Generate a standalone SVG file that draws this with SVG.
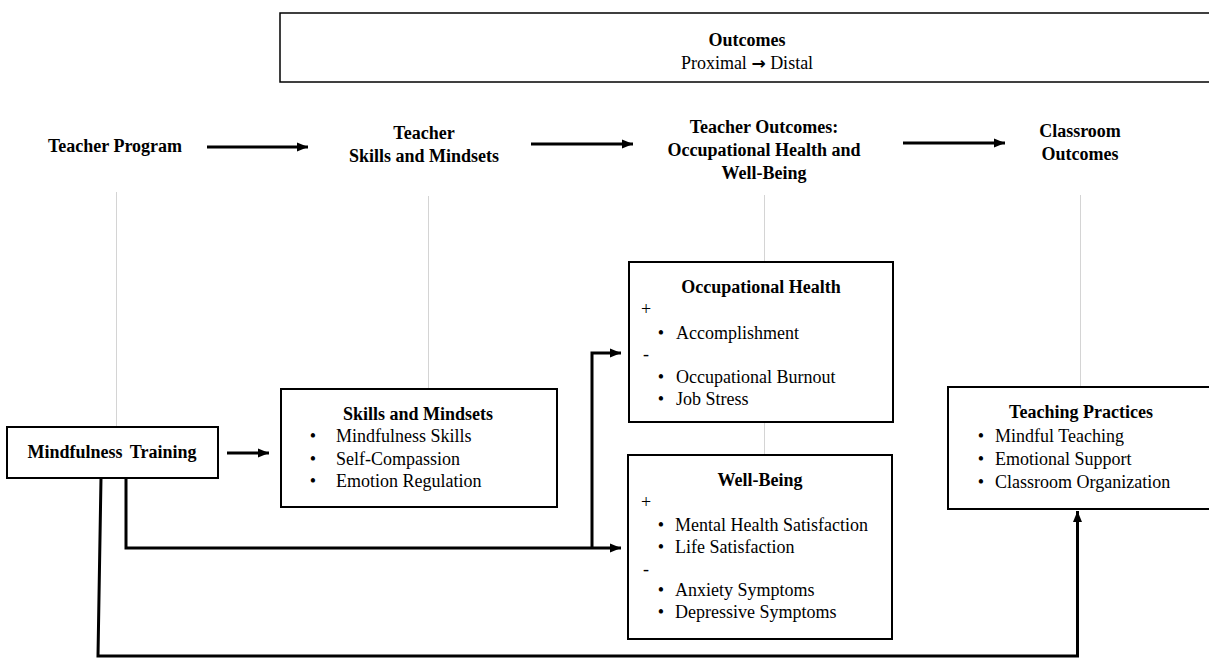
<svg xmlns="http://www.w3.org/2000/svg" width="1209" height="666" viewBox="0 0 1209 666">
<defs>
<style>
text{font-family:"Liberation Serif","Times New Roman",serif;font-size:18px;fill:#000}
.b{font-weight:bold}
.c{text-anchor:middle}
.box{fill:#fff;stroke:#000;stroke-width:2}
.grey{stroke:#d4d4d4;stroke-width:1;fill:none}
.con{stroke:#000;stroke-width:3;fill:none}
.arr{font-family:"DejaVu Sans",sans-serif;font-size:17px;font-weight:bold}
</style>
<marker id="ah" markerUnits="userSpaceOnUse" markerWidth="12" markerHeight="12" viewBox="0 0 12 12" refX="11" refY="6" orient="auto">
<path d="M0,1.5 L11,6 L0,10.5 Z" fill="#000"/>
</marker>
</defs>
<rect width="1209" height="666" fill="#fff"/>

<g id="outcomes">
<rect class="box" x="280" y="13" width="940" height="69" style="stroke-width:1.5"/>
<text class="b c" x="747" y="46">Outcomes</text>
<text class="c" x="747" y="69">Proximal <tspan class="arr">→</tspan> Distal</text>
</g>

<g id="header-program"><text class="b c" x="115" y="152">Teacher Program</text></g>
<g id="header-skills">
<text class="b c" x="424" y="139">Teacher</text>
<text class="b c" x="424" y="162">Skills and Mindsets</text>
</g>
<g id="header-teacher-outcomes">
<text class="b c" x="764" y="133">Teacher Outcomes:</text>
<text class="b c" x="764" y="156">Occupational Health and</text>
<text class="b c" x="764" y="179">Well-Being</text>
</g>
<g id="header-classroom">
<text class="b c" x="1080" y="137">Classroom</text>
<text class="b c" x="1080" y="160">Outcomes</text>
</g>

<g id="guides">
<line class="grey" x1="116.5" y1="192" x2="116.5" y2="427"/>
<line class="grey" x1="428.5" y1="196" x2="428.5" y2="389"/>
<line class="grey" x1="764.5" y1="195" x2="764.5" y2="262"/>
<line class="grey" x1="764.5" y1="422" x2="764.5" y2="455"/>
<line class="grey" x1="1080.5" y1="195" x2="1080.5" y2="387"/>
</g>

<g id="connectors">
<line class="con" x1="207" y1="147" x2="308" y2="147" marker-end="url(#ah)"/>
<line class="con" x1="531" y1="144" x2="633" y2="144" marker-end="url(#ah)"/>
<line class="con" x1="903" y1="143" x2="1005" y2="143" marker-end="url(#ah)"/>
<line class="con" x1="227" y1="453" x2="269" y2="453" marker-end="url(#ah)"/>
<path class="con" d="M126,478 V548 H621" marker-end="url(#ah)"/>
<path class="con" d="M592,548 V353 H621" marker-end="url(#ah)"/>
<path class="con" d="M101,478 L98,656 H1077.5 V511" marker-end="url(#ah)"/>
</g>

<g id="mindfulness-training">
<rect class="box" x="7" y="427" width="211" height="51"/>
<text class="b c" x="112" y="458" style="word-spacing:3px">Mindfulness Training</text>
</g>

<g id="skills-mindsets">
<rect class="box" x="281" y="389" width="276" height="118"/>
<text class="b c" x="418" y="420">Skills and Mindsets</text>
<text class="c" x="313" y="442">•</text><text x="336" y="442">Mindfulness Skills</text>
<text class="c" x="313" y="465">•</text><text x="336" y="465">Self-Compassion</text>
<text class="c" x="313" y="487">•</text><text x="336" y="487">Emotion Regulation</text>
</g>

<g id="occupational-health">
<rect class="box" x="629" y="262" width="264" height="160"/>
<text class="b c" x="761" y="293">Occupational Health</text>
<text x="641" y="315" fill="#333">+</text>
<text class="c" x="661" y="339">•</text><text x="676" y="339">Accomplishment</text>
<text x="643" y="360">-</text>
<text class="c" x="661" y="383">•</text><text x="676" y="383">Occupational Burnout</text>
<text class="c" x="661" y="405">•</text><text x="676" y="405">Job Stress</text>
</g>

<g id="well-being">
<rect class="box" x="628" y="455" width="264" height="184"/>
<text class="b c" x="760" y="486">Well-Being</text>
<text x="641" y="508">+</text>
<text class="c" x="661" y="531">•</text><text x="675" y="531">Mental Health Satisfaction</text>
<text class="c" x="661" y="553">•</text><text x="675" y="553">Life Satisfaction</text>
<text x="643" y="575">-</text>
<text class="c" x="661" y="596">•</text><text x="675" y="596">Anxiety Symptoms</text>
<text class="c" x="661" y="618">•</text><text x="675" y="618">Depressive Symptoms</text>
</g>

<g id="teaching-practices">
<rect class="box" x="948" y="387" width="262" height="122"/>
<text class="b c" x="1081" y="418">Teaching Practices</text>
<text class="c" x="981" y="442">•</text><text x="995" y="442">Mindful Teaching</text>
<text class="c" x="981" y="465">•</text><text x="995" y="465">Emotional Support</text>
<text class="c" x="981" y="488">•</text><text x="995" y="488">Classroom Organization</text>
</g>
</svg>
